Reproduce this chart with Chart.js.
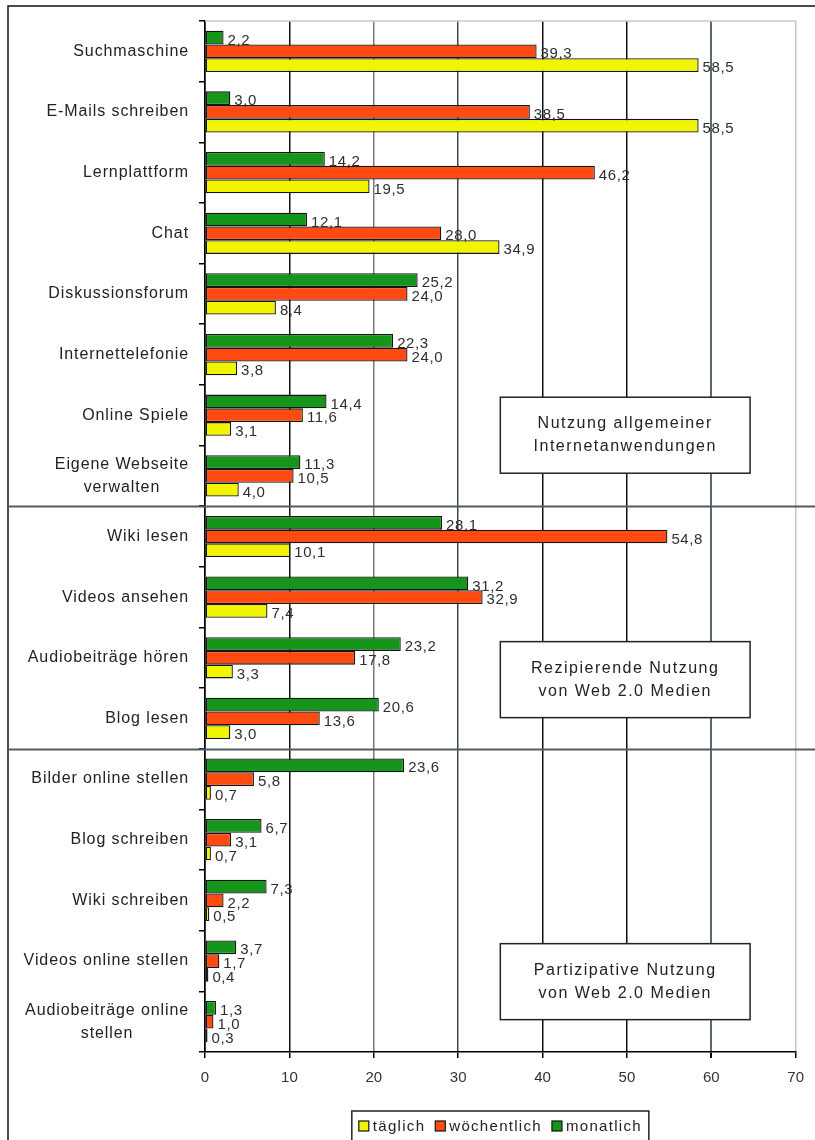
<!DOCTYPE html>
<html>
<head>
<meta charset="utf-8">
<script src="https://cdn.jsdelivr.net/npm/chart.js@4/dist/chart.umd.min.js"></script>
<style>
    html, body { margin: 0; padding: 0; background: #fff; overflow: hidden; }
    #wrap { width: 815px; height: 1140px; position: relative; }
    #usage-chart { display: block; }
</style>
</head>
<body>
<div id="wrap"><canvas id="usage-chart"></canvas></div>
<script>
const categories = [
    'Suchmaschine', 'E-Mails schreiben', 'Lernplattform', 'Chat', 'Diskussionsforum',
    'Internettelefonie', 'Online Spiele', ['Eigene Webseite', 'verwalten'],
    'Wiki lesen', 'Videos ansehen', 'Audiobeiträge hören', 'Blog lesen',
    'Bilder online stellen', 'Blog schreiben', 'Wiki schreiben', 'Videos online stellen',
    ['Audiobeiträge online', 'stellen']
];
const monatlich = [2.2, 3.0, 14.2, 12.1, 25.2, 22.3, 14.4, 11.3, 28.1, 31.2, 23.2, 20.6, 23.6, 6.7, 7.3, 3.7, 1.3];
const woechentlich = [39.3, 38.5, 46.2, 28.0, 24.0, 24.0, 11.6, 10.5, 54.8, 32.9, 17.8, 13.6, 5.8, 3.1, 2.2, 1.7, 1.0];
const taeglich = [58.5, 58.5, 19.5, 34.9, 8.4, 3.8, 3.1, 4.0, 10.1, 7.4, 3.3, 3.0, 0.7, 0.7, 0.5, 0.4, 0.3];
const x_ticks = [0, 10, 20, 30, 40, 50, 60, 70];

// group separators sit between these category indices
const separators = [7.5, 11.5];
const group_boxes = [
    { at: 6.33, lines: ['Nutzung allgemeiner', 'Internetanwendungen'] },
    { at: 10.36, lines: ['Rezipierende Nutzung', 'von Web 2.0 Medien'] },
    { at: 15.34, lines: ['Partizipative Nutzung', 'von Web 2.0 Medien'] }
];

const font_family = '"Liberation Sans", Arial, sans-serif';
const grid_colors = { 0: '#000', 10: '#111', 20: '#7a7a7a', 30: '#3c4a50', 40: '#111', 50: '#111', 60: '#5a6a72', 70: '#c4c4c4' };

function fmt(v) {
    return v.toFixed(1).replace('.', ',');
}

const decor_plugin = {
    id: 'decor',
    beforeDraw(chart) {
        const ctx = chart.ctx;
        ctx.save();
        ctx.fillStyle = '#fff';
        ctx.fillRect(0, 0, chart.width, chart.height);
        ctx.restore();
    },
    beforeDatasetsDraw(chart) {
        const ctx = chart.ctx;
        const area = chart.chartArea;
        ctx.save();
        ctx.strokeStyle = '#c8c8c8';
        ctx.lineWidth = 1.5;
        ctx.beginPath();
        ctx.moveTo(area.left, area.top);
        ctx.lineTo(area.right, area.top);
        ctx.stroke();
        ctx.restore();
    },
    afterDatasetsDraw(chart) {
        const ctx = chart.ctx;
        ctx.save();
        ctx.font = '15px ' + font_family;
        ctx.letterSpacing = '0.6px';
        ctx.fillStyle = '#2e2e2e';
        ctx.textAlign = 'left';
        ctx.textBaseline = 'middle';
        chart.data.datasets.forEach((ds, d) => {
            chart.getDatasetMeta(d).data.forEach((bar, i) => {
                ctx.fillText(fmt(ds.data[i]), bar.x + 4, bar.y + 3);
            });
        });
        ctx.restore();
    },
    afterDraw(chart) {
        const ctx = chart.ctx;
        const x = chart.scales.x;
        const y = chart.scales.y;
        ctx.save();

        // outer frame
        ctx.strokeStyle = '#111';
        ctx.lineWidth = 1.5;
        ctx.beginPath();
        ctx.moveTo(8, chart.height + 5);
        ctx.lineTo(8, 6);
        ctx.lineTo(chart.width + 5, 6);
        ctx.stroke();

        // group separators
        ctx.strokeStyle = '#4e5a60';
        ctx.lineWidth = 2;
        separators.forEach(s => {
            const py = Math.round(y.getPixelForValue(s)) + 0.5;
            ctx.beginPath();
            ctx.moveTo(8, py);
            ctx.lineTo(chart.width, py);
            ctx.stroke();
        });

        // category labels, multi-line ones centred as a block
        ctx.font = '16px ' + font_family;
        ctx.letterSpacing = '0.9px';
        ctx.fillStyle = '#222';
        ctx.textBaseline = 'middle';
        const right_edge = y.right - 16;
        categories.forEach((label, i) => {
            const lines = Array.isArray(label) ? label : [label];
            const py = y.getPixelForValue(i);
            const max_w = Math.max(...lines.map(l => ctx.measureText(l).width));
            ctx.textAlign = 'center';
            lines.forEach((l, j) => {
                ctx.fillText(l, right_edge - max_w / 2, py + (j - (lines.length - 1) / 2) * 23);
            });
        });

        // group boxes
        const bx0 = x.getPixelForValue(35);
        const bx1 = x.getPixelForValue(64.6);
        ctx.letterSpacing = '1.5px';
        group_boxes.forEach(b => {
            const cy = y.getPixelForValue(b.at);
            ctx.fillStyle = '#fff';
            ctx.fillRect(bx0, cy - 38, bx1 - bx0, 76);
            ctx.strokeStyle = '#222';
            ctx.lineWidth = 1.5;
            ctx.strokeRect(bx0, cy - 38, bx1 - bx0, 76);
            ctx.fillStyle = '#222';
            ctx.textAlign = 'center';
            b.lines.forEach((l, j) => {
                ctx.fillText(l, (bx0 + bx1) / 2, cy + (j - 0.5) * 23);
            });
        });

        // legend, reversed order, boxed and centred under the plot
        ctx.font = '15px ' + font_family;
        ctx.letterSpacing = '1.3px';
        const items = chart.data.datasets.slice().reverse();
        const widths = items.map(ds => 14 + ctx.measureText(ds.label).width);
        const gap = 10;
        const total = widths.reduce((a, w) => a + w, 0) + gap * (items.length - 1) + 14;
        const cx = (chart.chartArea.left + chart.chartArea.right) / 2;
        const lx = cx - total / 2;
        const ly = 1111;
        ctx.strokeStyle = '#222';
        ctx.lineWidth = 1.5;
        ctx.strokeRect(lx, ly, total, 40);
        let px = lx + 7;
        items.forEach((ds, k) => {
            ctx.fillStyle = ds.backgroundColor;
            ctx.fillRect(px, 1121, 10, 10);
            ctx.strokeStyle = '#111';
            ctx.lineWidth = 1.2;
            ctx.strokeRect(px, 1121, 10, 10);
            ctx.fillStyle = '#222';
            ctx.textAlign = 'left';
            ctx.fillText(ds.label, px + 14, 1127);
            px += widths[k] + gap;
        });

        ctx.restore();
    }
};

const bar_style = {
    borderColor: '#151515',
    borderWidth: 1.3,
    borderSkipped: false,
    categoryPercentage: 0.68,
    barPercentage: 1.0
};

let usage_chart = new Chart(
    document.getElementById('usage-chart'),
    {
        type: 'bar',
        data: {
            labels: categories,
            datasets: [
                { label: 'monatlich', data: monatlich, backgroundColor: '#15961a', ...bar_style },
                { label: 'wöchentlich', data: woechentlich, backgroundColor: '#ff4a12', ...bar_style },
                { label: 'täglich', data: taeglich, backgroundColor: '#f2f500', ...bar_style }
            ]
        },
        options: {
            indexAxis: 'y',
            responsive: true,
            maintainAspectRatio: false,
            animation: false,
            layout: {
                autoPadding: false,
                padding: { top: 21, right: 12, bottom: 53, left: 0 }
            },
            scales: {
                x: {
                    type: 'linear',
                    min: 0,
                    max: 70,
                    afterBuildTicks: scale => {
                        scale.ticks = x_ticks.map(v => ({ value: v }));
                    },
                    afterFit: scale => {
                        scale.height = 35;
                    },
                    grid: {
                        color: ctx => grid_colors[ctx.tick.value] || '#111',
                        lineWidth: ctx => (ctx.tick.value === 60 ? 2 : 1.5),
                        tickColor: '#000',
                        tickLength: 6
                    },
                    border: { color: '#000', width: 1.5 },
                    ticks: {
                        color: '#333',
                        padding: 11,
                        font: { family: font_family, size: 15 }
                    }
                },
                y: {
                    afterFit: scale => {
                        scale.width = 205;
                    },
                    grid: {
                        drawOnChartArea: false,
                        drawTicks: true,
                        tickLength: 6,
                        color: '#000',
                        lineWidth: 1.5
                    },
                    border: { color: '#000', width: 1.5 },
                    ticks: { display: false }
                }
            },
            plugins: {
                legend: { display: false },
                tooltip: { enabled: false }
            }
        },
        plugins: [decor_plugin]
    }
);
</script>
</body>
</html>
